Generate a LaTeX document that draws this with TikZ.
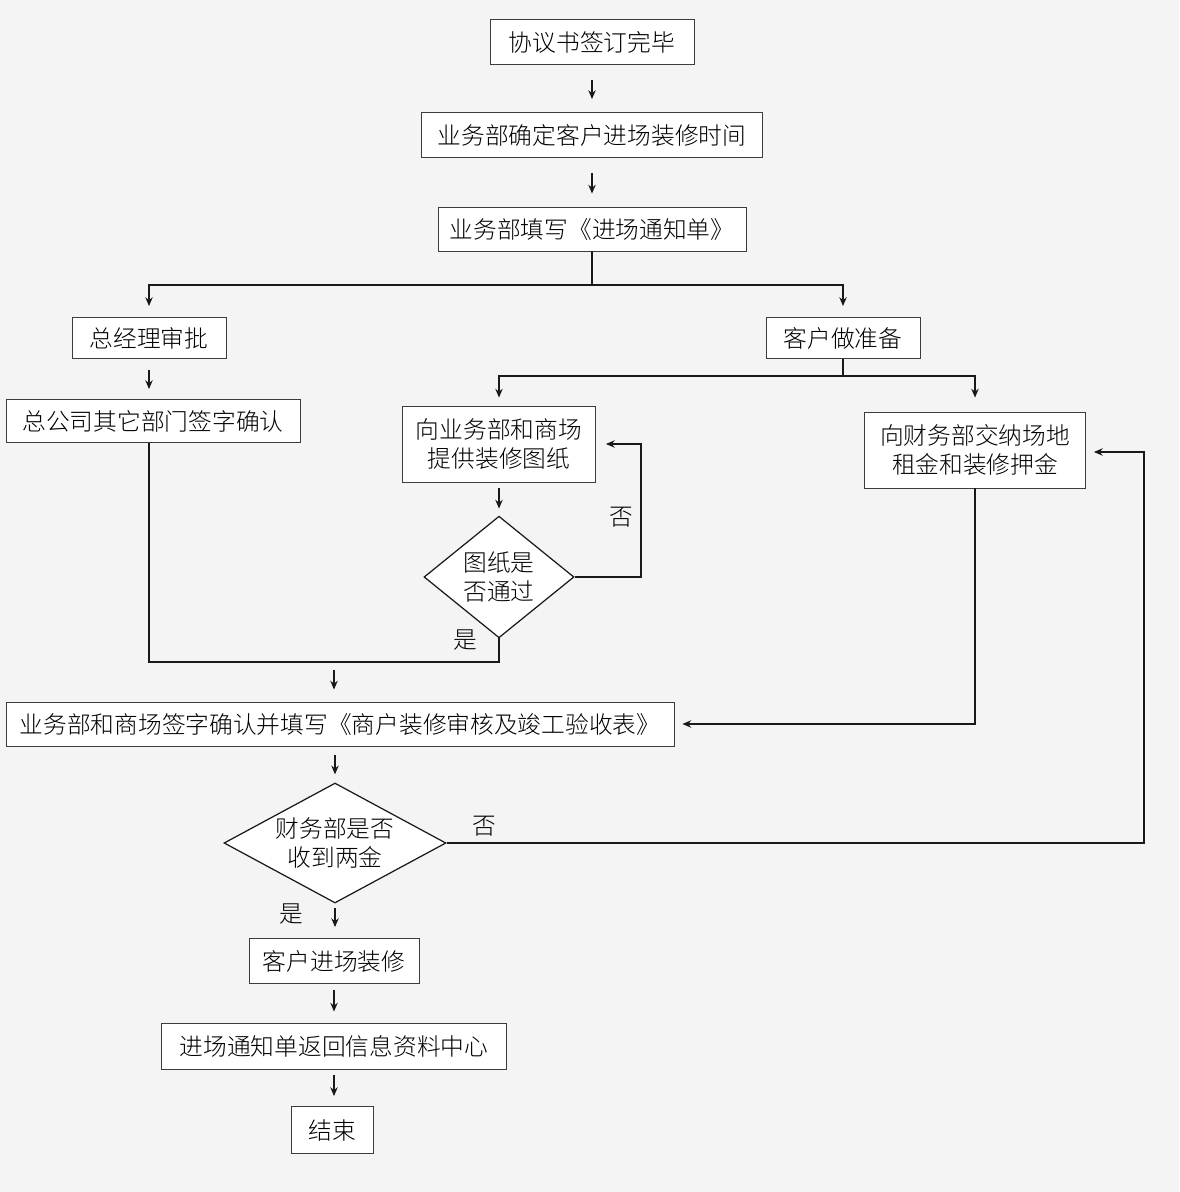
\documentclass[tikz,border=0pt]{standalone}
\usepackage{fontspec}
\setmainfont{Noto Sans CJK SC}[UprightFont = * Light]
\usetikzlibrary{arrows.meta, shapes.geometric, calc}
\definecolor{FlowBg}{RGB}{244, 244, 244}
\definecolor{FlowLine}{RGB}{25, 25, 25}
\definecolor{FlowEdge}{RGB}{60, 60, 60}

\begin{document}
\begin{tikzpicture}[
  x=0.02cm, y=-0.02cm,
  every node/.style={font=\fontsize{13.5}{16.5}\selectfont},
  box/.style={draw=FlowEdge, fill=white, line width=0.5pt,
              align=center, inner sep=0pt, minimum height=0.9cm},
  decision/.style={diamond, draw=FlowLine, fill=white, line width=0.7pt,
                   align=center, inner sep=0pt},
  line/.style={draw=FlowLine, line width=0.75pt},
  arr/.style={line, -{Stealth[length=5pt, width=4.2pt]}},
  spaced/.style 2 args={shorten <=#1, shorten >=#2}
]
  %% Canvas
  \fill[FlowBg] (0,0) rectangle (1179,1192);
  \useasboundingbox (0,0) rectangle (1179,1192);

  %% Nodes
  \node[box, minimum width=4.08cm]                      (sign)    at (592,  42) {协议书签订完毕};
  \node[box, minimum width=6.82cm]                      (time)    at (592, 135) {业务部确定客户进场装修时间};
  \node[box, minimum width=6.16cm, minimum height=0.88cm] (notice) at (592, 229) {业务部填写《进场通知单》};
  \node[box, minimum width=3.08cm, minimum height=0.82cm] (gm)     at (149, 338) {总经理审批};
  \node[box, minimum width=3.08cm, minimum height=0.82cm] (prep)   at (843, 338) {客户做准备};
  \node[box, minimum width=5.88cm, minimum height=0.86cm] (dept)   at (153, 421) {总公司其它部门签字确认};
  \node[box, minimum width=3.86cm, minimum height=1.52cm] (drawing) at (499, 444) {向业务部和商场\\提供装修图纸};
  \node[box, minimum width=4.42cm, minimum height=1.52cm] (rent)   at (975, 450) {向财务部交纳场地\\租金和装修押金};
  \node[decision, minimum width=3cm, minimum height=2.4cm]  (check) at (499, 577) {图纸是\\否通过};
  \node[box, minimum width=13.36cm, minimum height=0.88cm] (accept) at (340, 724)
    {业务部和商场签字确认并填写《商户装修审核及竣工验收表》};
  \node[decision, aspect=1.85, inner sep=-3pt, minimum width=4.44cm, minimum height=2.4cm]
    (fund) at (335, 843) {财务部是否\\收到两金};
  \node[box, minimum width=3.4cm]                       (enter)   at (334, 961) {客户进场装修};
  \node[box, minimum width=6.9cm, minimum height=0.92cm] (back)   at (334,1046) {进场通知单返回信息资料中心};
  \node[box, minimum width=1.64cm, minimum height=0.94cm] (finish) at (332,1130) {结束};

  %% Junctions
  \coordinate (split)   at (592, 285);
  \coordinate (split2)  at (843, 376);
  \coordinate (join)    at (334, 662);
  \coordinate (redo)    at (641, 444);
  \coordinate (unpaid)  at (1144, 452);

  %% Arrows
  \draw[arr, spaced={0.3cm}{0.26cm}]  (sign)   -- (time);
  \draw[arr, spaced={0.3cm}{0.26cm}]  (time)   -- (notice);
  \draw[line]                         (notice) -- (split);
  \draw[arr, shorten >=0.22cm]        (split)  -| (gm);
  \draw[arr, shorten >=0.22cm]        (split)  -| (prep);
  \draw[arr, spaced={0.22cm}{0.2cm}]  (gm)     -- (gm.south |- dept.north);
  \draw[line]                         (prep)   -- (split2);
  \draw[arr, shorten >=0.16cm]        (split2) -| (drawing);
  \draw[arr, shorten >=0.28cm]        (split2) -| (rent);
  \draw[arr, spaced={0.12cm}{0.14cm}] (drawing) -- (check);
  \draw[arr, shorten >=0.2cm]         (check.east) -| (redo) -- (drawing.east);
  \draw[line]                         (dept.south -| gm) |- (join) -| (check.south);
  \draw[arr, spaced={0.16cm}{0.24cm}] (join)   -- (join |- accept.north);
  \draw[arr, shorten >=0.16cm]        (rent.south) |- (accept.east);
  \draw[arr, spaced={0.18cm}{0.16cm}] (accept.south -| fund) -- (fund.north);
  \draw[arr, shorten >=0.16cm]        (fund.east) -| (unpaid) -- (rent.east |- unpaid);
  \draw[arr, spaced={0.08cm}{0.22cm}] (fund.south) -- (fund.south |- enter.north);
  \draw[arr, spaced={0.12cm}{0.22cm}] (enter)  -- (back);
  \draw[arr, spaced={0.12cm}{0.2cm}]  (back)   -- (back.south |- finish.north);

  %% Branch labels
  \node (noA)  at (621, 517) {否};
  \node (yesA) at (465, 640) {是};
  \node (noB)  at (484, 826) {否};
  \node (yesB) at (291, 914) {是};
\end{tikzpicture}
\end{document}
